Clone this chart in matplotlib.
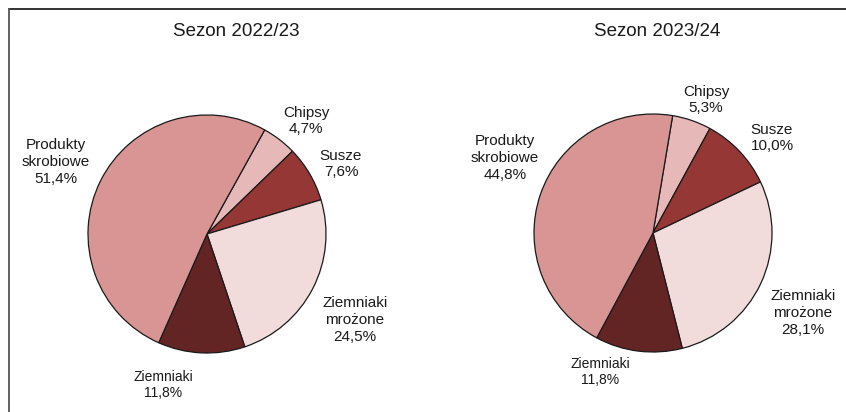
import matplotlib
matplotlib.use("Agg")
import matplotlib.pyplot as plt
from matplotlib.lines import Line2D

W, H = 846, 412

# dane (udział w %), kolejność zgodnie z ruchem wskazówek zegara od góry
categories = ["Chipsy", "Susze", "Ziemniaki\nmrożone", "Ziemniaki", "Produkty\nskrobiowe"]
season_titles = ["Sezon 2022/23", "Sezon 2023/24"]
share_2223 = [4.7, 7.6, 24.5, 11.8, 51.4]
share_2324 = [5.3, 10.0, 28.1, 11.8, 44.8]

colors = ["#E6B8B7", "#953735", "#F2DCDB", "#632523", "#D99594"]

FONT = ["Liberation Sans", "DejaVu Sans"]


def fmt(v):
    return f"{v:.1f}".replace(".", ",") + "%"


def py(y):
    # piksel od góry -> współrzędna danych od dołu
    return H - y


fig = plt.figure(figsize=(W / 100, H / 100), dpi=100)
ax = fig.add_axes([0, 0, 1, 1])

pies = [
    dict(values=share_2223, title=season_titles[0], center=(207, 234), start=61,
         title_xy=(236, 31),
         label_xy=[(306, 121), (341, 164), (355, 320), (163, 385), (56, 162)]),
    dict(values=share_2324, title=season_titles[1], center=(653, 233), start=80.5,
         title_xy=(657, 31),
         label_xy=[(706, 100), (772, 138), (803, 313), (600, 372), (505, 158)]),
]

for p in pies:
    cx, cy = p["center"]
    ax.pie(
        p["values"],
        colors=colors,
        startangle=p["start"],
        counterclock=False,
        center=(cx, py(cy)),
        radius=119,
        wedgeprops=dict(edgecolor="#1a1a1a", linewidth=0.9),
    )
    ax.text(p["title_xy"][0], py(p["title_xy"][1]), p["title"], ha="center", va="center",
            fontsize=13.5, family=FONT, color="#1a1a1a")
    for i, (cat, v) in enumerate(zip(categories, p["values"])):
        lx, ly = p["label_xy"][i]
        size = 10 if cat == "Ziemniaki" else 11
        ax.text(lx, py(ly), f"{cat}\n{fmt(v)}", ha="center", va="center",
                fontsize=size, family=FONT, color="#1a1a1a", linespacing=1.25)

ax.set_xlim(0, W)
ax.set_ylim(0, H)
ax.set_aspect("equal")
ax.axis("off")

# ramka: górna i lewa krawędź
fig.add_artist(Line2D([9 / W, 1], [1 - 9 / H, 1 - 9 / H], color="#222222", lw=1.3))
fig.add_artist(Line2D([9 / W, 9 / W], [0, 1 - 9 / H], color="#555555", lw=1.3))

fig.savefig("out.png", dpi=100)
